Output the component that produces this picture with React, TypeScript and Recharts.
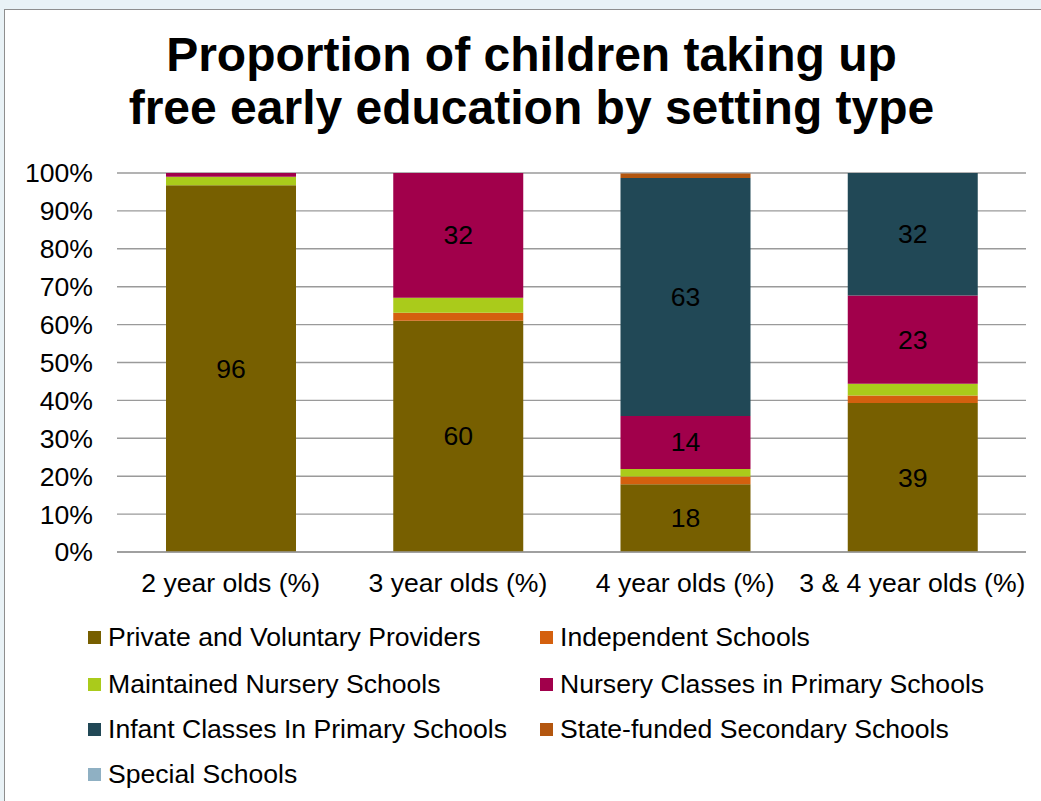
import React from 'react';
import { BarChart, Bar, XAxis, YAxis, CartesianGrid, Legend, LabelList } from 'recharts';

const categories = ['2 year olds (%)', '3 year olds (%)', '4 year olds (%)', '3 & 4 year olds (%)'];

// segment values (percent), bottom to top
const privateVoluntary = [96.8, 61.0, 17.9, 39.3];
const independent = [0, 2.1, 2.0, 2.0];
const maintainedNursery = [2.2, 4.0, 2.0, 3.1];
const nurseryClasses = [1.0, 32.9, 14.0, 23.3];
const infantClasses = [0, 0, 62.8, 32.3];
const stateSecondary = [0, 0, 1.2, 0];
const specialSchools = [0, 0, 0, 0];

// data labels printed on the bars
const privateLabels = ['96', '60', '18', '39'];
const nurseryLabels = ['', '32', '14', '23'];
const infantLabels = ['', '', '63', '32'];

const yTicks = [0, 10, 20, 30, 40, 50, 60, 70, 80, 90, 100];

const series = [
  { key: 'pvp', name: 'Private and Voluntary Providers', color: '#775f00', values: privateVoluntary, labels: privateLabels },
  { key: 'ind', name: 'Independent Schools', color: '#d4600e', values: independent },
  { key: 'mns', name: 'Maintained Nursery Schools', color: '#aacb1b', values: maintainedNursery },
  { key: 'ncps', name: 'Nursery Classes in Primary Schools', color: '#a1004b', values: nurseryClasses, labels: nurseryLabels },
  { key: 'icps', name: 'Infant Classes In Primary Schools', color: '#214856', values: infantClasses, labels: infantLabels },
  { key: 'sfss', name: 'State-funded Secondary Schools', color: '#b3560f', values: stateSecondary },
  { key: 'spec', name: 'Special Schools', color: '#8fb0c3', values: specialSchools },
];

const data = categories.map((c, i) => {
  const row: Record<string, string | number> = { name: c };
  series.forEach((s) => {
    row[s.key] = s.values[i];
    if (s.labels) row[s.key + 'Label'] = s.labels[i];
  });
  return row;
});

const FONT = '"Liberation Sans", Arial, sans-serif';
const FS = 26.6;

const SegLabel = (props: any) => {
  const { x, y, width, height, value } = props;
  if (!value) return null;
  return (
    <text
      x={x + width / 2}
      y={y + height / 2}
      textAnchor="middle"
      dominantBaseline="central"
      fontSize={FS}
      fontFamily={FONT}
      fill="#000"
    >
      {value}
    </text>
  );
};

// zero-height box so the legend does not shrink the plot area
const LegendBox = () => {
  const cols = [88, 540];
  const rows = [0, 47, 92, 137];
  return (
    <div style={{ position: 'relative', width: 1041, height: 0, fontFamily: FONT }}>
      {series.map((s, i) => (
        <div
          key={s.key}
          style={{
            position: 'absolute',
            left: cols[i % 2],
            top: rows[Math.floor(i / 2)],
            height: 30,
            display: 'flex',
            alignItems: 'center',
            whiteSpace: 'nowrap',
          }}
        >
          <span style={{ display: 'inline-block', width: 13, height: 13, background: s.color, marginRight: 7 }} />
          <span style={{ fontSize: FS, color: '#000' }}>{s.name}</span>
        </div>
      ))}
    </div>
  );
};

export default function App() {
  return (
    <div style={{ position: 'absolute', left: 0, top: 0, width: 1041, height: 801, background: '#e9f2f6', overflow: 'hidden' }}>
      <div
        style={{
          position: 'absolute',
          left: 4,
          top: 9,
          width: 1045,
          height: 800,
          background: '#fff',
          border: '1px solid #8e8e8e',
          boxShadow: '1px 1px 1px #b8b8b8',
        }}
      />
      <div
        style={{
          position: 'absolute',
          left: 0,
          top: 28,
          width: 1063,
          textAlign: 'center',
          fontFamily: FONT,
          fontWeight: 'bold',
          fontSize: 48,
          lineHeight: '53px',
          color: '#000',
        }}
      >
        Proportion of children taking up
        <br />
        free early education by setting type
      </div>
      <div style={{ position: 'absolute', left: 0, top: 0 }}>
        <BarChart
          width={1041}
          height={801}
          data={data}
          margin={{ top: 173, right: 15, bottom: 219, left: 17 }}
          barSize={130}
        >
          <CartesianGrid vertical={false} stroke="#9a9a9a" strokeWidth={1.4} />
          <XAxis
            dataKey="name"
            height={30}
            axisLine={{ stroke: '#9a9a9a', strokeWidth: 1.4 }}
            tickLine={false}
            tickSize={0}
            tickMargin={21}
            interval={0}
            tick={{ fontSize: FS, fontFamily: FONT, fill: '#000' }}
          />
          <YAxis
            width={100}
            domain={[0, 100]}
            ticks={yTicks}
            interval={0}
            tickFormatter={(v: number) => `${v}%`}
            axisLine={false}
            tickLine={false}
            tickSize={0}
            tickMargin={24}
            tick={{ fontSize: FS, fontFamily: FONT, fill: '#000' }}
          />
          <Legend
            verticalAlign="bottom"
            height={0}
            content={() => <LegendBox />}
            wrapperStyle={{ position: 'absolute', left: 0, top: 622, width: 1041, height: 0 }}
          />
          {series.map((s) => (
            <Bar key={s.key} dataKey={s.key} name={s.name} stackId="a" fill={s.color} isAnimationActive={false}>
              {s.labels && <LabelList dataKey={s.key + 'Label'} content={SegLabel} />}
            </Bar>
          ))}
        </BarChart>
      </div>
    </div>
  );
}
